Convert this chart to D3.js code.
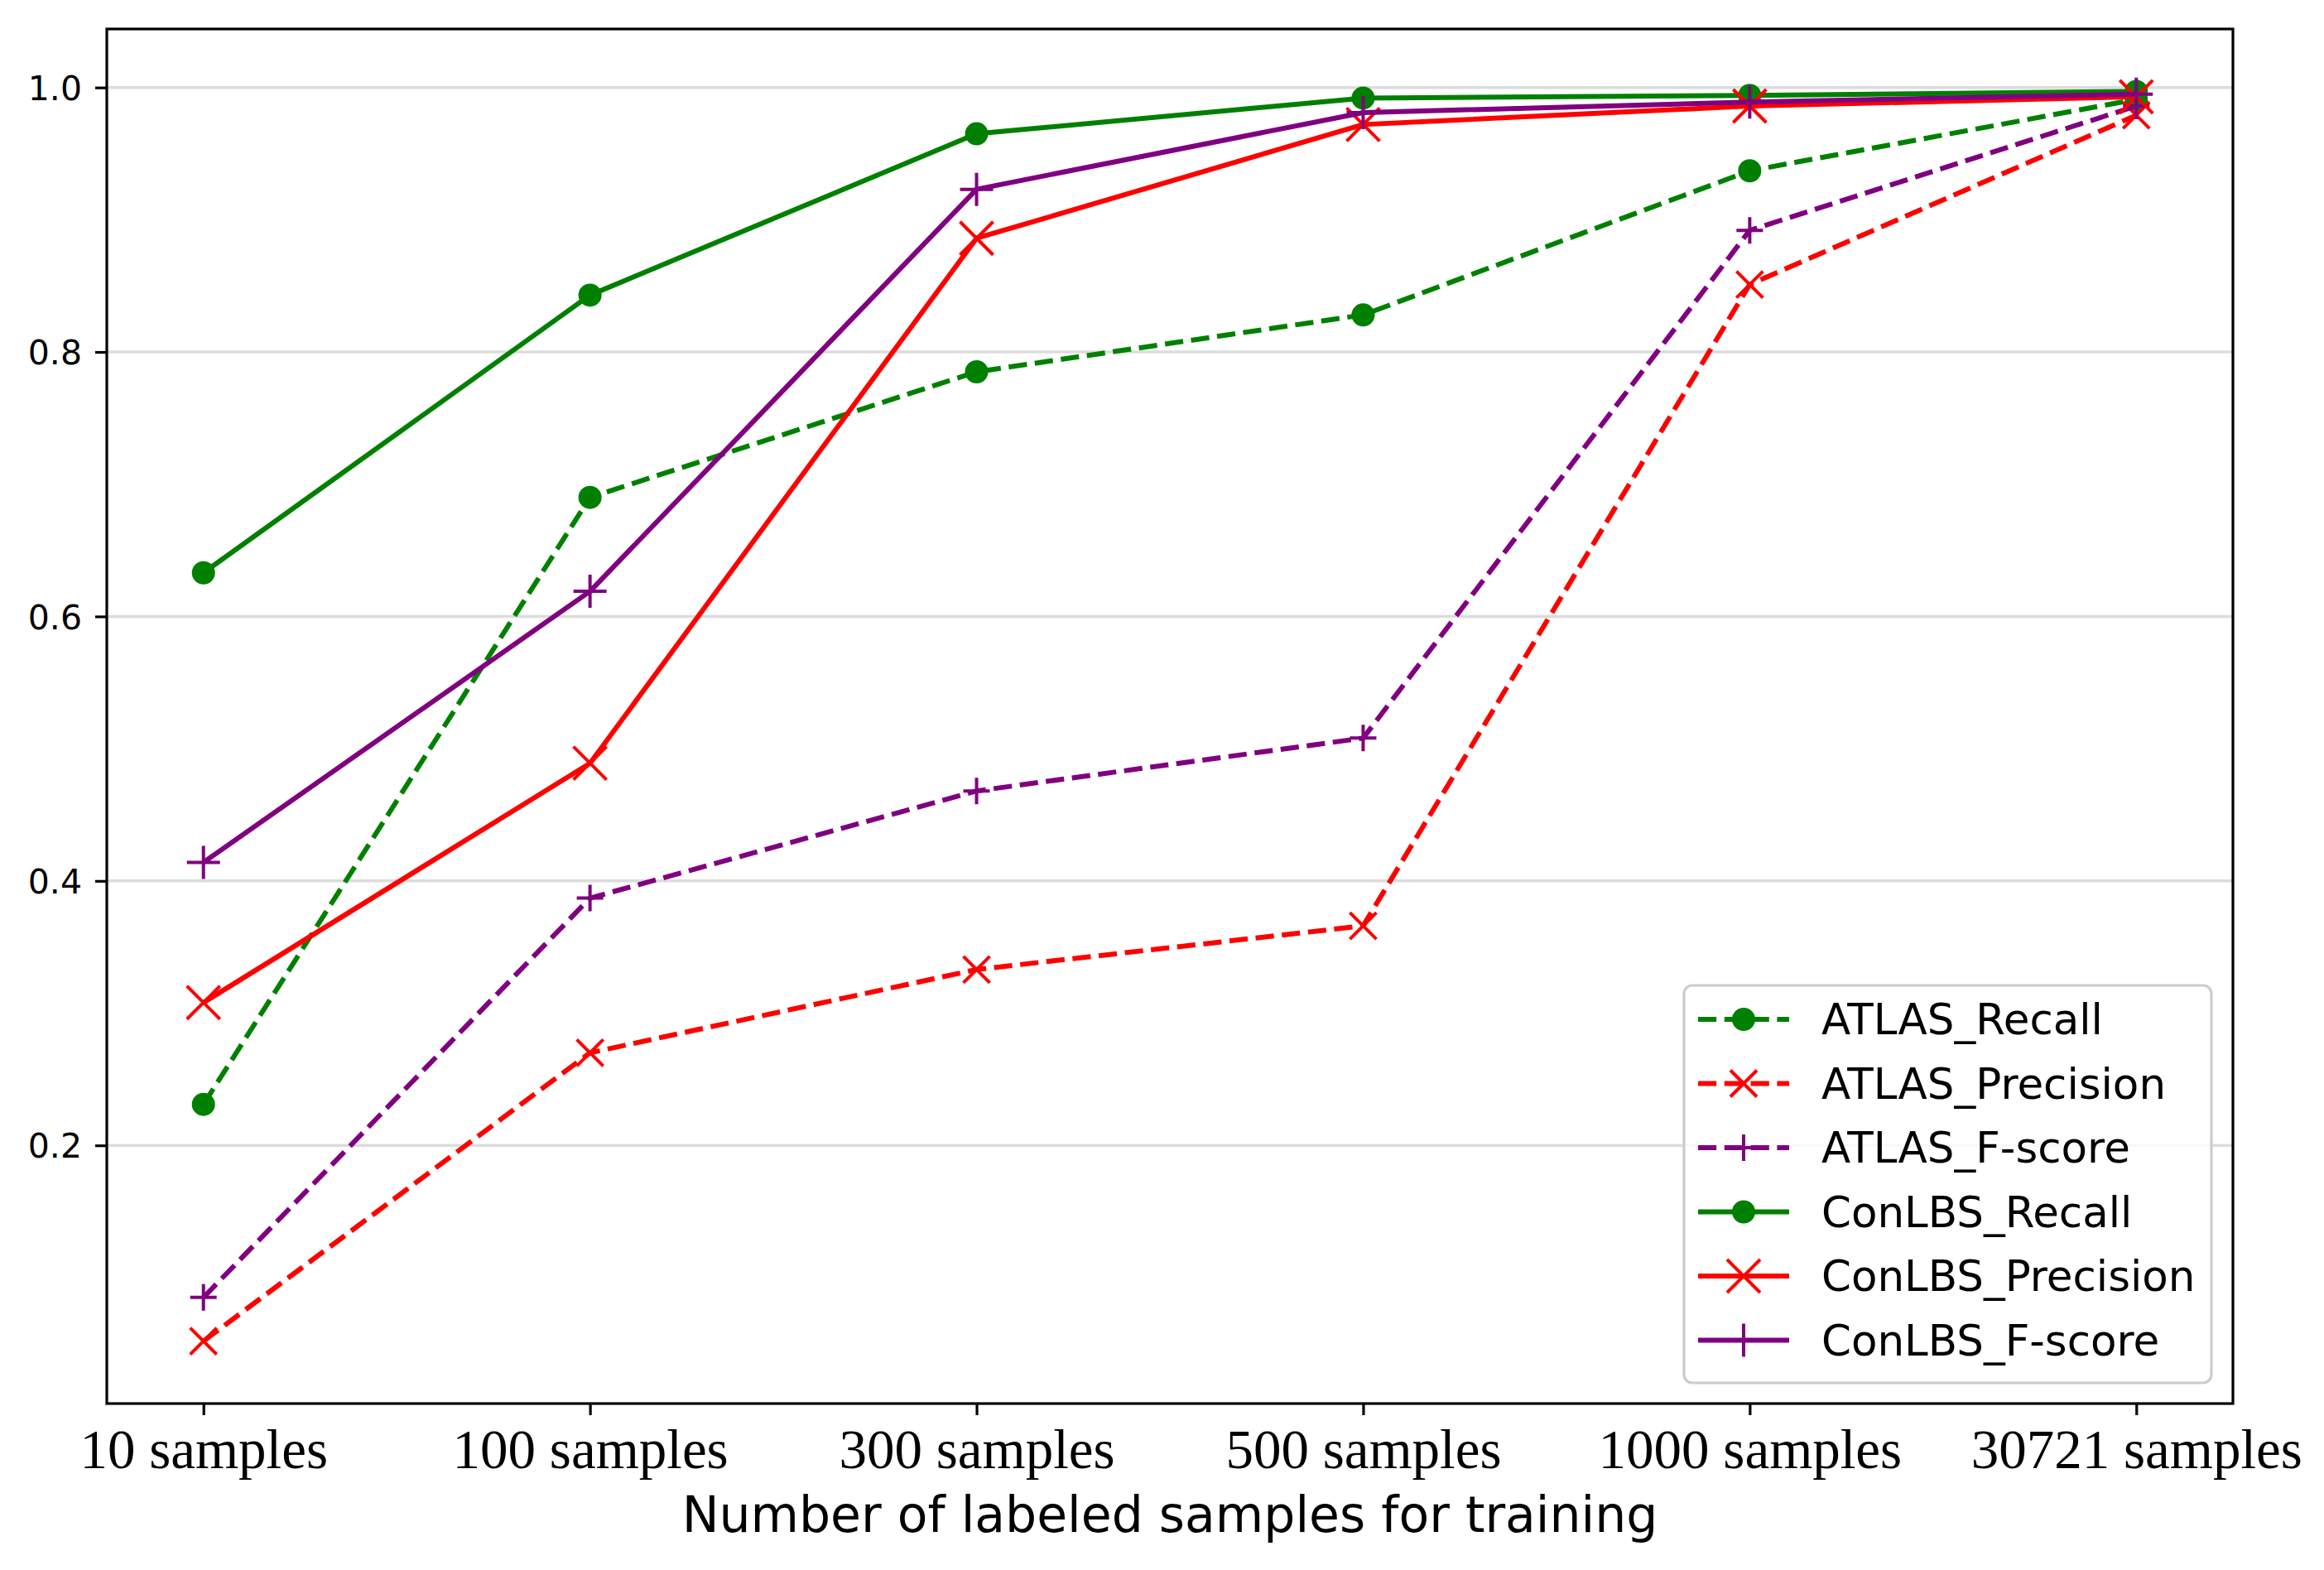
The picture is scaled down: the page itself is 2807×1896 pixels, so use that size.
<!DOCTYPE html>
<html>
<head>
<meta charset="utf-8">
<script src="https://cdn.jsdelivr.net/npm/d3@7"></script>
<style>
  body { margin: 0; background: #fff; }
  svg { display: block; }
</style>
</head>
<body>
<script>
// data
var categories = ['10 samples', '100 samples', '300 samples', '500 samples', '1000 samples', '30721 samples'];
var atlasRecall    = [0.231, 0.690, 0.785, 0.828, 0.937, 0.991];
var atlasPrecision = [0.052, 0.270, 0.333, 0.366, 0.851, 0.979];
var atlasFscore    = [0.085, 0.387, 0.468, 0.508, 0.892, 0.986];
var conRecall      = [0.633, 0.843, 0.965, 0.992, 0.994, 0.997];
var conPrecision   = [0.308, 0.489, 0.886, 0.972, 0.986, 0.993];
var conFscore      = [0.414, 0.619, 0.923, 0.981, 0.989, 0.995];
var yTicks = [0.2, 0.4, 0.6, 0.8, 1.0];
var xLabel = 'Number of labeled samples for training';

// look of each series
var series = [
  {name: 'ATLAS_Recall',      values: atlasRecall,    color: 'green',  dash: true,  marker: 'o', size: 24},
  {name: 'ATLAS_Precision',   values: atlasPrecision, color: 'red',    dash: true,  marker: 'x', size: 32},
  {name: 'ATLAS_F-score',     values: atlasFscore,    color: 'purple', dash: true,  marker: '+', size: 32},
  {name: 'ConLBS_Recall',     values: conRecall,      color: 'green',  dash: false, marker: 'o', size: 24},
  {name: 'ConLBS_Precision',  values: conPrecision,   color: 'red',    dash: false, marker: 'x', size: 40},
  {name: 'ConLBS_F-score',    values: conFscore,      color: 'purple', dash: false, marker: '+', size: 40}
];

var W = 2807, H = 1896;
// plot box (don't call it "top", that's window.top)
var pLeft = 129, pRight = 2697, pTop = 35, pBottom = 1695;
var lw = 6, dashes = '22.2,9.6';

var svg = d3.select('body').append('svg').attr('width', W).attr('height', H);
svg.append('rect').attr('width', W).attr('height', H).attr('fill', '#fff');

// matplotlib style 5% margins
var n = categories.length;
var x = d3.scaleLinear().domain([-0.05 * (n - 1), (n - 1) * 1.05]).range([pLeft, pRight]);
var all = d3.merge(series.map(function(s) { return s.values; }));
var ext = d3.extent(all), pad = (ext[1] - ext[0]) * 0.05;
var y = d3.scaleLinear().domain([ext[0] - pad, ext[1] + pad]).range([pBottom, pTop]);

// grid
svg.append('g').selectAll('line').data(yTicks).enter().append('line')
  .attr('x1', pLeft).attr('x2', pRight)
  .attr('y1', function(d) { return y(d); }).attr('y2', function(d) { return y(d); })
  .attr('stroke', '#dcdcdc').attr('stroke-width', 3.5);

// markers
function markerPath(m, s) {
  var h = s / 2;
  if (m === 'x') return 'M' + (-h) + ',' + (-h) + 'L' + h + ',' + h + 'M' + (-h) + ',' + h + 'L' + h + ',' + (-h);
  if (m === '+') return 'M' + (-h) + ',0L' + h + ',0M0,' + (-h) + 'L0,' + h;
  return d3.symbol(d3.symbolCircle, Math.PI * h * h)();
}
function drawMarker(g, s) {
  var p = g.append('path').attr('d', markerPath(s.marker, s.size));
  if (s.marker === 'o') p.attr('fill', s.color).attr('stroke', s.color).attr('stroke-width', 4);
  else p.attr('fill', 'none').attr('stroke', s.color).attr('stroke-width', 4);
  return p;
}

var line = d3.line()
  .x(function(d, i) { return x(i); })
  .y(function(d) { return y(d); });

series.forEach(function(s) {
  var g = svg.append('g');
  g.append('path').attr('d', line(s.values))
    .attr('fill', 'none').attr('stroke', s.color).attr('stroke-width', lw)
    .attr('stroke-dasharray', s.dash ? dashes : null)
    .attr('stroke-linejoin', 'round');
  s.values.forEach(function(v, i) {
    drawMarker(g, s).attr('transform', 'translate(' + x(i) + ',' + y(v) + ')');
  });
});

// axes
var yAxis = d3.axisLeft(y).tickValues(yTicks).tickFormat(d3.format('.1f')).tickSize(14).tickPadding(16);
var gy = svg.append('g').attr('transform', 'translate(' + pLeft + ',0)').call(yAxis);
gy.select('.domain').remove();
gy.selectAll('line').attr('stroke', '#000').attr('stroke-width', 3.2);
gy.selectAll('text').attr('font-family', 'DejaVu Sans').attr('font-size', 41).attr('fill', '#000').attr('dy', '0.36em');

var xAxis = d3.axisBottom(x).tickValues(d3.range(n)).tickFormat(function(i) { return categories[i]; }).tickSize(14);
var gx = svg.append('g').attr('transform', 'translate(0,' + pBottom + ')').call(xAxis);
gx.select('.domain').remove();
gx.selectAll('line').attr('stroke', '#000').attr('stroke-width', 3.2);
gx.selectAll('text').attr('font-family', 'Liberation Serif').attr('font-size', 67).attr('fill', '#000')
  .attr('dy', null).attr('y', 78);

// spines
svg.append('rect').attr('x', pLeft).attr('y', pTop).attr('width', pRight - pLeft).attr('height', pBottom - pTop)
  .attr('fill', 'none').attr('stroke', '#000').attr('stroke-width', 3.2);

svg.append('text').attr('x', (pLeft + pRight) / 2).attr('y', 1850)
  .attr('text-anchor', 'middle').attr('font-family', 'DejaVu Sans').attr('font-size', 60)
  .text(xLabel);

// legend
var lg = svg.append('g').attr('transform', 'translate(2034,1190)');
lg.append('rect').attr('width', 637).attr('height', 480).attr('rx', 10)
  .attr('fill', '#fff').attr('fill-opacity', 0.8).attr('stroke', '#cccccc').attr('stroke-width', 3.2);
series.forEach(function(s, i) {
  var row = lg.append('g').attr('transform', 'translate(0,' + (41 + i * 77.5) + ')');
  row.append('line').attr('x1', 17).attr('x2', 127).attr('y1', 0).attr('y2', 0)
    .attr('stroke', s.color).attr('stroke-width', lw)
    .attr('stroke-dasharray', s.dash ? dashes : null);
  drawMarker(row, s).attr('transform', 'translate(72,0)');
  row.append('text').attr('x', 166).attr('y', 18)
    .attr('font-family', 'DejaVu Sans').attr('font-size', 51.5).attr('fill', '#000')
    .text(s.name);
});
</script>
</body>
</html>
